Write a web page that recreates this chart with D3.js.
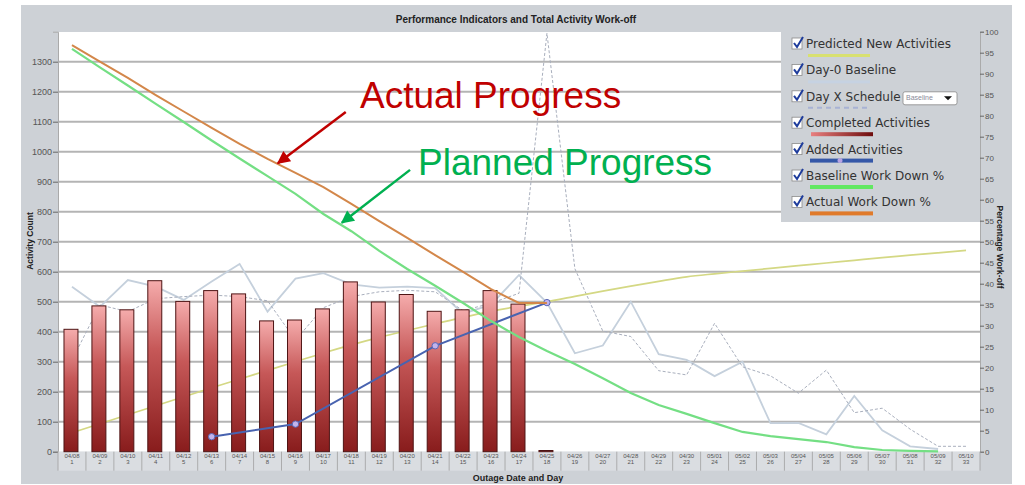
<!DOCTYPE html>
<html>
<head>
<meta charset="utf-8">
<script src="https://cdn.jsdelivr.net/npm/d3@7"></script>
<style>
  body { margin: 0; background: #fff; }
  svg { display: block; font-family: "Liberation Sans", Arial, sans-serif; }
</style>
</head>
<body>
<svg id="chart" width="1025" height="485"></svg>
<script>
// Performance indicators chart

const dates = ['04/08','04/09','04/10','04/11','04/12','04/13','04/14','04/15','04/16','04/17',
  '04/18','04/19','04/20','04/21','04/22','04/23','04/24','04/25','04/26','04/27','04/28',
  '04/29','04/30','05/01','05/02','05/03','05/04','05/05','05/06','05/07','05/08','05/09','05/10'];
const dayNums = [1,2,3,4,5,6,7,8,9,10,11,12,13,14,15,16,17,18,19,20,21,22,23,24,25,26,27,28,29,30,31,32,33];

const leftTicks = [0,100,200,300,400,500,600,700,800,900,1000,1100,1200,1300];
const rightTicks = [0,5,10,15,20,25,30,35,40,45,50,55,60,65,70,75,80,85,90,95,100];

// counts (left axis)
const completed = [408,486,473,570,501,537,526,436,439,476,566,499,524,468,473,537,492,4];
const addedDays = [6,9,14,18];
const addedValues = [50,92,353,497];
const predicted = [63,93,123,153,183,213,242,271,300,329,356,381,404,426,448,468,485,500,518,
  535,552,568,583,593,602,611,620,629,638,647,655,663,671];
const day0Baseline = [550,483,572,550,506,567,626,467,577,595,558,547,550,545,460,490,589,497,
  328,354,500,325,306,252,300,95,96,58,186,71,18,9];
const dayXSchedule = [305,489,467,510,517,522,517,503,372,480,517,533,538,533,470,495,528,1395,
  610,402,384,270,256,428,283,253,195,272,130,145,75,18,18];

// percentages (right axis)
const baselinePct = [95.9,91.5,87.2,82.8,78.5,74.1,69.8,65.6,61.4,56.6,52.5,47.8,43.5,39.5,35.4,
  31.1,27.3,24.0,20.9,17.5,14.0,11.1,9.0,6.8,4.7,3.7,3.0,2.3,1.1,0.4,0.2,0.1];
const actualPct = [96.8,92.9,89.0,84.9,81.0,77.1,73.3,69.7,66.4,63.0,59.0,54.9,50.9,46.8,42.8,38.7,35.4,35.4];

const legendItems = ['Predicted New Activities','Day-0 Baseline','Day X Schedule','Completed Activities',
  'Added Activities','Baseline Work Down %','Actual Work Down %'];

const PL = 58, PR = 980, PT = 31.7, PB = 451.7;
const PANEL = '#cdd1d6';

const svg = d3.select('#chart');
const defs = svg.append('defs');

const x = d3.scaleBand().domain(dayNums).range([PL, PR]);
const yL = d3.scaleLinear().domain([0, 1400]).range([PB, PT]);
const yR = d3.scaleLinear().domain([0, 100]).range([PB, PT]);
const cx = d => x(d) + x.bandwidth() / 2;
const xAt = t => PL + t * x.step();   // position in band units, for annotations

// panel + plot background
svg.append('rect').attr('x', 21).attr('y', 5).attr('width', 991).attr('height', 479).attr('fill', PANEL);
svg.append('rect').attr('x', PL).attr('y', 32).attr('width', PR - PL).attr('height', PB - 32).attr('fill', '#fff');

svg.append('text').attr('x', 516).attr('y', 23).attr('text-anchor', 'middle')
  .attr('font-size', 10).attr('font-weight', 'bold').attr('fill', '#222')
  .text('Performance Indicators and Total Activity Work-off');

// gridlines
svg.append('g').selectAll('line')
  .data(leftTicks.filter(v => v > 0))
  .join('line')
  .attr('x1', PL).attr('x2', PR)
  .attr('y1', d => yL(d)).attr('y2', d => yL(d))
  .attr('stroke', '#b4b4b4').attr('stroke-width', 2);

// axes
const axL = svg.append('g').attr('transform', `translate(${PL},0)`)
  .call(d3.axisLeft(yL).tickValues(leftTicks).tickFormat(d3.format('d')).tickSize(5).tickPadding(1));
axL.select('.domain').attr('stroke', '#aaa');
axL.selectAll('.tick line').attr('stroke', '#666');
axL.selectAll('.tick text').attr('font-size', 9).attr('fill', '#555').attr('font-family', 'Liberation Sans, Arial');

const axR = svg.append('g').attr('transform', `translate(${PR},0)`)
  .call(d3.axisRight(yR).tickValues(rightTicks).tickSize(4).tickPadding(1));
axR.select('.domain').attr('stroke', '#aaa');
axR.selectAll('.tick line').attr('stroke', '#666');
axR.selectAll('.tick text').attr('font-size', 8).attr('fill', '#555').attr('font-family', 'Liberation Sans, Arial');

svg.append('text').attr('transform', 'translate(33,241) rotate(-90)').attr('text-anchor', 'middle')
  .attr('font-size', 8.5).attr('font-weight', 'bold').attr('fill', '#222').text('Activity Count');
svg.append('text').attr('transform', 'translate(997,247) rotate(90)').attr('text-anchor', 'middle')
  .attr('font-size', 8.5).attr('font-weight', 'bold').attr('fill', '#222').text('Percentage Work-off');

// category cells below the plot
const cells = svg.append('g');
cells.append('rect').attr('x', PL).attr('y', PB).attr('width', PR - PL).attr('height', 19).attr('fill', '#dadde1');
cells.selectAll('line.sep')
  .data(dayNums.concat([34]))
  .join('line')
  .attr('class', 'sep')
  .attr('x1', d => PL + (d - 1) * x.step()).attr('x2', d => PL + (d - 1) * x.step())
  .attr('y1', PB).attr('y2', PB + 19)
  .attr('stroke', '#a0a0a0').attr('stroke-width', 0.8);
cells.selectAll('text.dt')
  .data(dayNums)
  .join('text')
  .attr('class', 'dt')
  .attr('x', d => cx(d)).attr('y', PB + 6.5)
  .attr('text-anchor', 'middle').attr('font-size', 6).attr('fill', '#555')
  .text((d, i) => dates[i]);
cells.selectAll('text.dn')
  .data(dayNums)
  .join('text')
  .attr('class', 'dn')
  .attr('x', d => cx(d)).attr('y', PB + 12.5)
  .attr('text-anchor', 'middle').attr('font-size', 6).attr('fill', '#555')
  .text(d => d);

svg.append('text').attr('x', 518).attr('y', 481).attr('text-anchor', 'middle')
  .attr('font-size', 9).attr('font-weight', 'bold').attr('fill', '#222').text('Outage Date and Day');

// lines behind bars
const lineCount = d3.line().x((d, i) => cx(i + 1)).y(d => yL(d));
const lineCountSmooth = d3.line().x((d, i) => cx(i + 1)).y(d => yL(d)).curve(d3.curveMonotoneX);
const linePct = d3.line().x((d, i) => cx(i + 1)).y(d => yR(d));

svg.append('path').datum(day0Baseline).attr('d', lineCount)
  .attr('fill', 'none').attr('stroke', '#c5d0dc').attr('stroke-width', 1.8);
svg.append('path').datum(dayXSchedule).attr('d', lineCount)
  .attr('fill', 'none').attr('stroke', '#a9afbd').attr('stroke-width', 1).attr('stroke-dasharray', '3,2');
svg.append('path').datum(predicted).attr('d', lineCountSmooth)
  .attr('fill', 'none').attr('stroke', '#d4d884').attr('stroke-width', 1.7);

// bars
const grad = defs.append('linearGradient').attr('id', 'barGrad')
  .attr('x1', 0).attr('y1', 0).attr('x2', 0).attr('y2', 1);
grad.append('stop').attr('offset', '0%').attr('stop-color', '#f5acac');
grad.append('stop').attr('offset', '40%').attr('stop-color', '#c65858');
grad.append('stop').attr('offset', '100%').attr('stop-color', '#881c1c');

const bw = x.bandwidth() * 0.5;
svg.append('g').selectAll('rect')
  .data(completed)
  .join('rect')
  .attr('x', (d, i) => cx(i + 1) - bw / 2 - 1)
  .attr('width', bw)
  .attr('y', d => yL(d))
  .attr('height', d => PB - yL(d))
  .attr('fill', 'url(#barGrad)')
  .attr('stroke', '#4e1414').attr('stroke-width', 1);

// added activities
const added = addedDays.map((d, i) => ({ day: d, v: addedValues[i] }));
svg.append('path').datum(added)
  .attr('d', d3.line().x(d => cx(d.day)).y(d => yL(d.v)))
  .attr('fill', 'none').attr('stroke', '#4863b0').attr('stroke-width', 2);
svg.append('g').selectAll('circle')
  .data(added)
  .join('circle')
  .attr('cx', d => cx(d.day)).attr('cy', d => yL(d.v)).attr('r', 3.2)
  .attr('fill', '#c2b4ec').attr('stroke', '#5a66b4').attr('stroke-width', 1);

// work down %
svg.append('path').datum(baselinePct).attr('d', linePct)
  .attr('fill', 'none').attr('stroke', '#74df84').attr('stroke-width', 2.2);
svg.append('path').datum(actualPct).attr('d', linePct)
  .attr('fill', 'none').attr('stroke', '#d3874a').attr('stroke-width', 2);

// legend
const lg = svg.append('g');
lg.append('rect').attr('x', 781).attr('y', 32).attr('width', PR - 781).attr('height', 190).attr('fill', PANEL);

const lgY = i => 48 + i * 26.4;
const lgItem = lg.selectAll('g.item').data(legendItems).join('g').attr('class', 'item');
lgItem.append('rect')
  .attr('x', 792).attr('y', (d, i) => lgY(i) - 10).attr('width', 10).attr('height', 11)
  .attr('fill', '#fff').attr('stroke', '#8a8a8a').attr('stroke-width', 0.8);
lgItem.append('path')
  .attr('d', (d, i) => `M${794},${lgY(i) - 5} L${797},${lgY(i) - 1} L${803},${lgY(i) - 11}`)
  .attr('fill', 'none').attr('stroke', '#1e3c9c').attr('stroke-width', 2);
lgItem.append('text')
  .attr('x', 806).attr('y', (d, i) => lgY(i))
  .attr('font-family', 'DejaVu Sans, sans-serif').attr('font-size', 12).attr('fill', '#333')
  .text(d => d);

const sw = lg.append('g');
const swGrad = defs.append('linearGradient').attr('id', 'swGrad');
swGrad.append('stop').attr('offset', '0%').attr('stop-color', '#e88080');
swGrad.append('stop').attr('offset', '100%').attr('stop-color', '#6e0c0c');
sw.append('rect').attr('x', 808).attr('y', lgY(0) + 6).attr('width', 62).attr('height', 3).attr('fill', '#d8e070');
sw.append('rect').attr('x', 808).attr('y', lgY(1) + 6).attr('width', 62).attr('height', 3).attr('fill', '#c6d2e2');
sw.append('line').attr('x1', 808).attr('x2', 870).attr('y1', lgY(2) + 7).attr('y2', lgY(2) + 7)
  .attr('stroke', '#a8b2d4').attr('stroke-width', 2).attr('stroke-dasharray', '5,4');
sw.append('rect').attr('x', 811).attr('y', lgY(3) + 5).attr('width', 62).attr('height', 4).attr('fill', 'url(#swGrad)');
sw.append('rect').attr('x', 810).attr('y', lgY(4) + 5).attr('width', 63).attr('height', 4).attr('fill', '#3558a8');
sw.append('circle').attr('cx', 840).attr('cy', lgY(4) + 7).attr('r', 2.5).attr('fill', '#b8a4e4');
sw.append('rect').attr('x', 810).attr('y', lgY(5) + 5).attr('width', 63).attr('height', 4).attr('fill', '#62e862');
sw.append('rect').attr('x', 810).attr('y', lgY(6) + 5).attr('width', 63).attr('height', 4).attr('fill', '#e07a2a');

// dropdown next to Day X Schedule
lg.append('rect').attr('x', 903).attr('y', lgY(2) - 9).attr('width', 54).attr('height', 13).attr('rx', 2)
  .attr('fill', '#fff').attr('stroke', '#888').attr('stroke-width', 0.8);
lg.append('text').attr('x', 906).attr('y', lgY(2) - 0.5).attr('font-size', 7).attr('fill', '#8a8a9a').text('Baseline');
lg.append('path').attr('d', `M944,${lgY(2) - 4.5} L952,${lgY(2) - 4.5} L948,${lgY(2) - 0.5} Z`).attr('fill', '#111');

// annotations
function arrow(id, color) {
  defs.append('marker').attr('id', id)
    .attr('viewBox', '0 0 10 10').attr('refX', 9).attr('refY', 5)
    .attr('markerUnits', 'userSpaceOnUse').attr('markerWidth', 16).attr('markerHeight', 13)
    .attr('orient', 'auto')
    .append('path').attr('d', 'M0,0 L10,5 L0,10 Z').attr('fill', color);
}
arrow('arrRed', '#c00000');
arrow('arrGreen', '#00b050');

svg.append('line')
  .attr('x1', xAt(10.3)).attr('y1', yR(80.9)).attr('x2', xAt(7.87)).attr('y2', yR(68.7))
  .attr('stroke', '#c00000').attr('stroke-width', 2.5).attr('marker-end', 'url(#arrRed)');
svg.append('line')
  .attr('x1', xAt(12.6)).attr('y1', yR(67.1)).attr('x2', xAt(10.16)).attr('y2', yR(54.5))
  .attr('stroke', '#00b050').attr('stroke-width', 2.5).attr('marker-end', 'url(#arrGreen)');

svg.append('text').attr('x', 360).attr('y', 108).attr('font-size', 37).attr('fill', '#c00000')
  .text('Actual Progress');
svg.append('text').attr('x', 418).attr('y', 175).attr('font-size', 37).attr('fill', '#00b050')
  .text('Planned Progress');
</script>
</body>
</html>
